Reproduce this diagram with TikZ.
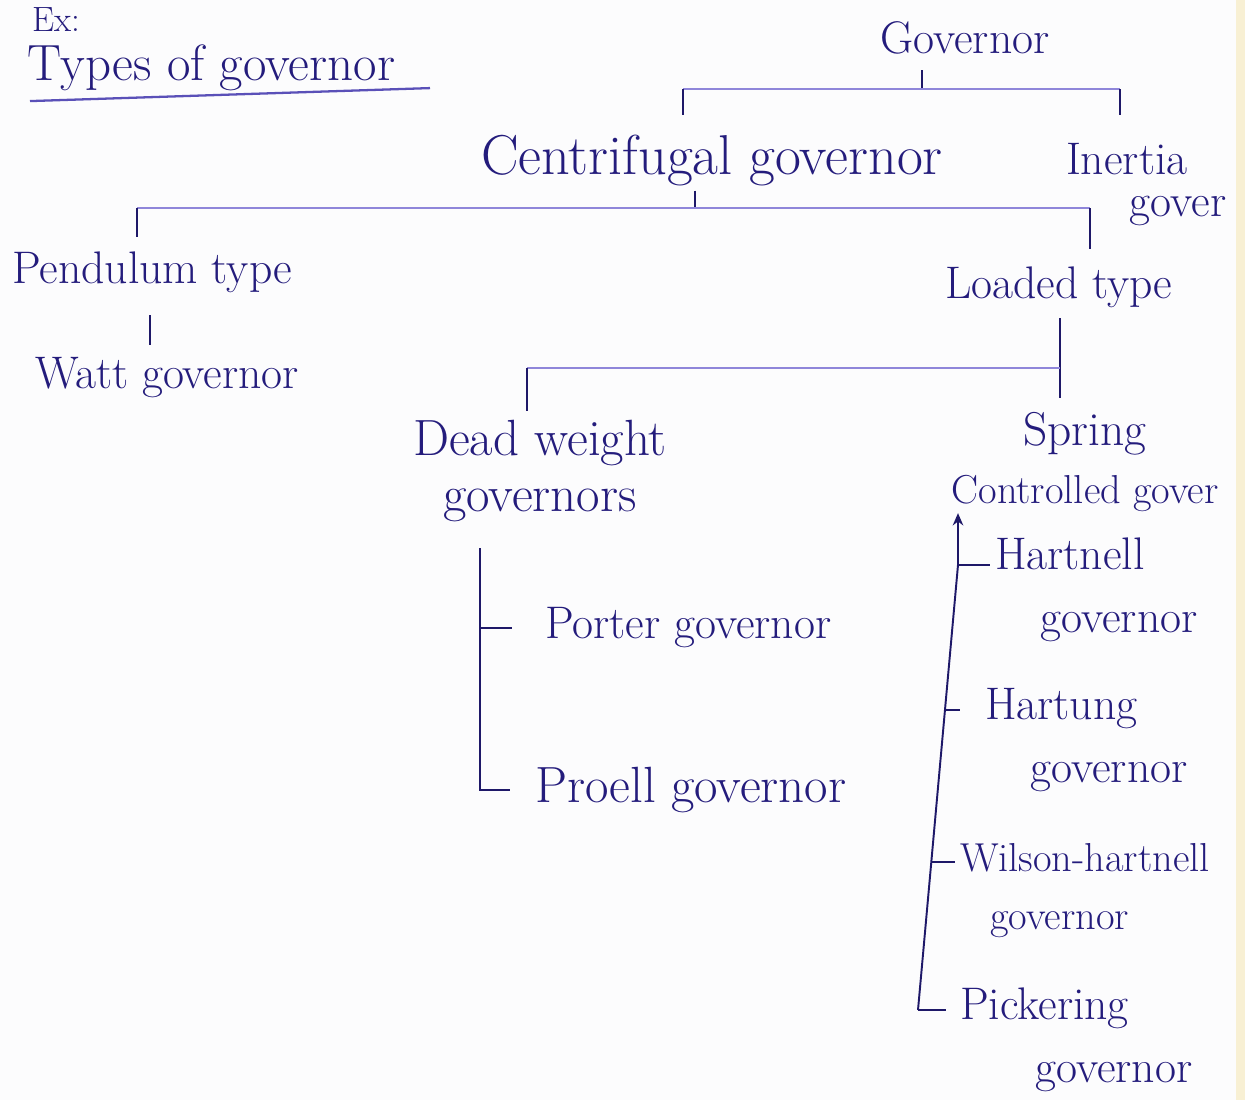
\documentclass[tikz,border=0pt]{standalone}
\usetikzlibrary{arrows.meta, positioning, calc}
\definecolor{ink}{HTML}{241C7C}
\definecolor{nib}{HTML}{1E1868}
\definecolor{rail}{HTML}{8F86DA}
\definecolor{uline}{HTML}{5A50B8}
\definecolor{paper}{HTML}{FCFCFD}
\definecolor{rim}{HTML}{F8F0D4}

\begin{document}
\begin{tikzpicture}[
    x=0.02cm, y=-0.02cm,
    every node/.style={text=ink, inner sep=0pt, outer sep=0pt},
    hand/.style={font=\fontsize{26}{36}\selectfont, align=left},
    handbig/.style={font=\fontsize{29}{32}\selectfont, align=center},
    handsmall/.style={font=\fontsize{23}{33}\selectfont, align=center},
    stem/.style={nib, line width=1.1pt},
    bar/.style={rail, line width=1.4pt},
]
\useasboundingbox[fill=paper] (0,0) rectangle (1245,1100);
\fill[rim] (1236,0) rectangle (1245,1100);

% heading
\node[handsmall, font=\fontsize{20}{24}\selectfont, anchor=north west] (ex) at (32,8) {Ex:};
\node[handbig, anchor=west] (title) at (28,68) {Types of governor};
\draw[uline, line width=1.3pt] ($(title.south west)+(2,10)$) -- ($(title.south east)+(35,-3)$);

% governor and its two kinds
\node[hand] (gov) at (965,38) {Governor};
\node[handbig, font=\fontsize{32}{36}\selectfont] (cen) at (712,160) {Centrifugal governor};
\node[hand, anchor=north west] (ine) at (1066,143) {Inertia\\[-12pt]\hspace{1.4em}gover};
\coordinate (j1) at (922,89);
\coordinate (j1l) at (683,89);
\coordinate (j1r) at (1120,89);
\draw[stem, shorten <=9pt] (gov.south -| j1) -- (j1);
\draw[bar] (j1l) -- (j1r);
\draw[stem, shorten >=11pt] (j1l) -- (j1l |- cen.north);
\draw[stem, shorten >=16pt] (j1r) -- (j1r |- ine.north);

% centrifugal: pendulum and loaded
\node[hand, anchor=west] (pend) at (12,272) {Pendulum type};
\node[hand, anchor=west] (lod) at (945,287) {Loaded type};
\coordinate (j2) at (695,208);
\coordinate (j2l) at (137,208);
\coordinate (j2r) at (1090,208);
\draw[stem, shorten <=3pt] (cen.south -| j2) -- (j2);
\draw[bar] (j2l) -- (j2r);
\draw[stem, shorten >=8pt] (j2l) -- (j2l |- pend.north);
\draw[stem, shorten >=10pt] (j2r) -- (j2r |- lod.north);

% pendulum type
\node[hand, anchor=west] (wat) at (35,378) {Watt governor};
\coordinate (j3) at (150,0);
\draw[stem, shorten <=13pt, shorten >=7pt] (pend.south -| j3) -- (wat.north -| j3);

% loaded type
\node[handbig, anchor=north] (dw) at (540,420) {Dead weight\\governors};
\node[handsmall, anchor=north] (spr) at (1085,412) {{\fontsize{27}{33}\selectfont Spring}\\Controlled gover};
\coordinate (j4) at (1060,0);
\coordinate (j4l) at (527,368);
\draw[stem, shorten <=6pt, shorten >=8pt] (lod.south -| j4) -- (spr.north -| j4);
\draw[bar] (j4l) -- (j4l -| j4);
\draw[stem, shorten >=5pt] (j4l) -- (j4l |- dw.north);

% dead weight governors
\node[hand, anchor=west] (por) at (545,628) {Porter governor};
\node[handbig, anchor=west] (pro) at (535,790) {Proell governor};
\coordinate (b1) at (480,0);
\draw[stem, shorten <=15pt, shorten >=14pt] (dw.south -| b1) -- (pro.west -| b1) -- (pro.west);
\draw[stem, shorten >=19pt] (por.west -| b1) -- (por.west);

% spring controlled governors
\node[hand, anchor=north west] (hrt) at (995,538) {Hartnell\\\hspace{1em}governor};
\node[hand, anchor=north west] (hrg) at (985,688) {Hartung\\\hspace{1em}governor};
\node[handsmall, align=left, anchor=north west] (wil) at (960,843) {Wilson-hartnell\\\hspace{0.75em}governor};
\node[hand, anchor=north west] (pck) at (960,988) {Pickering\\\hspace{1.65em}governor};
\coordinate (s1) at (958,565);
\coordinate (s4) at (918,1010);
\coordinate (s2) at ($(s1)!0.326!(s4)$);
\coordinate (s3) at ($(s1)!0.667!(s4)$);
\draw[stem, shorten >=1pt, -{Stealth[length=7pt, width=6pt]}] (s1) -- (spr.south -| s1);
\draw[stem] (s1) -- (s4);
\draw[stem, shorten >=3pt] (s1) -- (s1 -| hrt.west);
\draw[stem, shorten >=14pt] (s2) -- (s2 -| hrg.west);
\draw[stem, shorten >=3pt] (s3) -- (s3 -| wil.west);
\draw[stem, shorten >=8pt] (s4) -- (s4 -| pck.west);
\end{tikzpicture}
\end{document}
